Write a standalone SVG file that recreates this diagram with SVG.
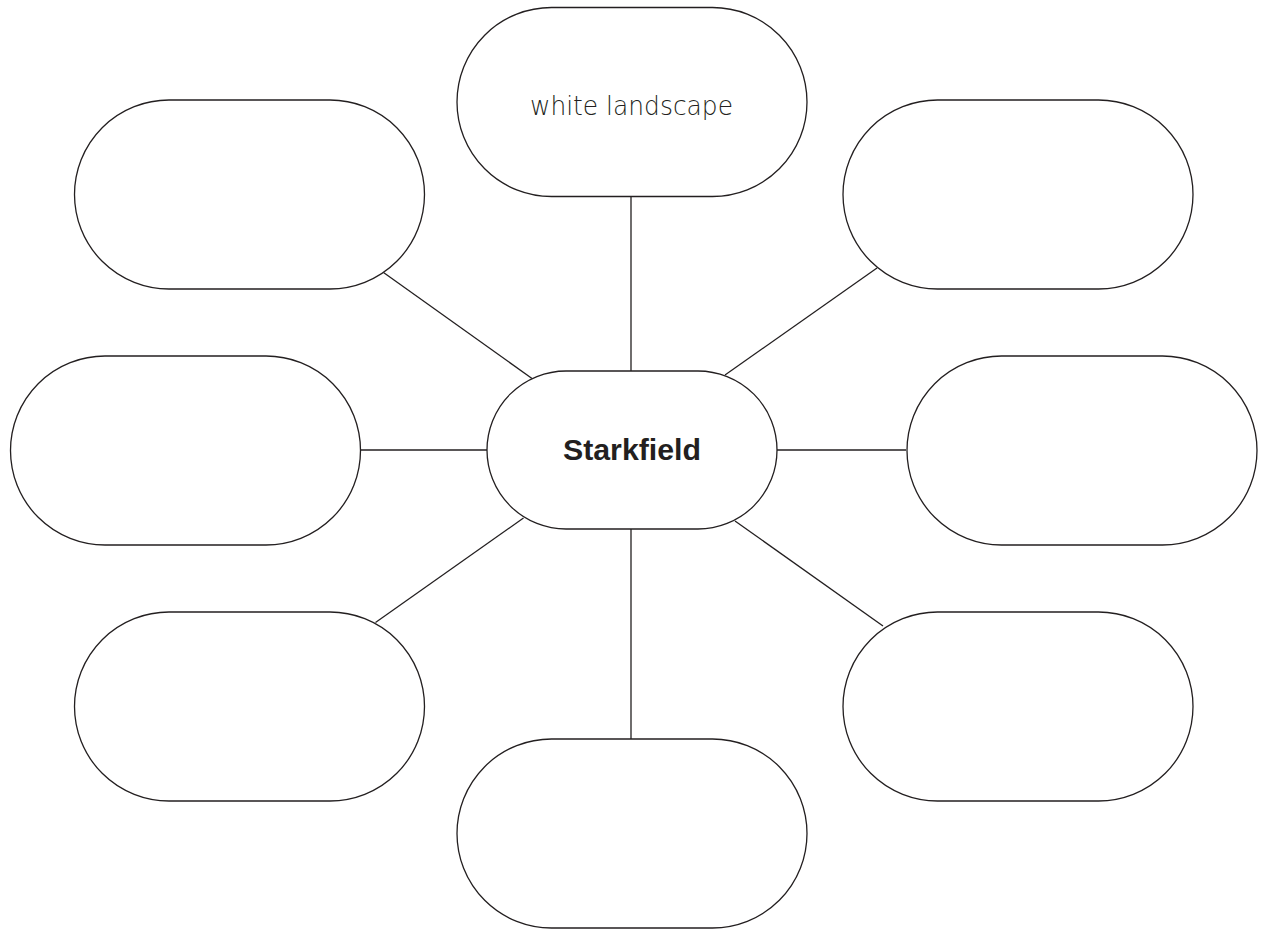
<svg xmlns="http://www.w3.org/2000/svg" width="1264" height="930" viewBox="0 0 1264 930">
<style>
.node{fill:#fff;stroke:#231f20;stroke-width:1.3}
.conn line{stroke:#231f20;stroke-width:1.3}
.hand{font-family:"DejaVu Sans","Liberation Sans",sans-serif;font-weight:200;font-size:27px;fill:#231f20}
.main{font-family:"Liberation Sans",Arial,sans-serif;font-weight:bold;font-size:30px;fill:#231f20}
</style>
<rect width="1264" height="930" fill="#fff"/>
<g id="connectors" class="conn">
<line x1="631" y1="197" x2="631" y2="371"/>
<line x1="383.5" y1="272.5" x2="532" y2="378.5"/>
<line x1="877" y1="268" x2="725" y2="375"/>
<line x1="361" y1="450" x2="487" y2="450"/>
<line x1="777" y1="450" x2="906" y2="450"/>
<line x1="523.5" y1="518" x2="375.5" y2="622.5"/>
<line x1="735" y1="521" x2="883" y2="626"/>
<line x1="631" y1="529" x2="631" y2="739"/>
</g>
<g id="node-top"><rect class="node" x="457" y="7.5" width="350" height="189" rx="94.5"/><text class="hand" x="631.5" y="115" text-anchor="middle" textLength="203" lengthAdjust="spacingAndGlyphs">white landscape</text></g>
<g id="node-top-left"><rect class="node" x="74.5" y="100" width="350" height="189" rx="94.5"/></g>
<g id="node-top-right"><rect class="node" x="843" y="100" width="350" height="189" rx="94.5"/></g>
<g id="node-left"><rect class="node" x="10.5" y="356" width="350" height="189" rx="94.5"/></g>
<g id="node-right"><rect class="node" x="907" y="356" width="350" height="189" rx="94.5"/></g>
<g id="node-bottom-left"><rect class="node" x="74.5" y="612" width="350" height="189" rx="94.5"/></g>
<g id="node-bottom-right"><rect class="node" x="843" y="612" width="350" height="189" rx="94.5"/></g>
<g id="node-bottom"><rect class="node" x="457" y="739" width="350" height="189" rx="94.5"/></g>
<g id="node-center"><rect class="node" x="487" y="371" width="290" height="158" rx="79"/><text class="main" x="632" y="460" text-anchor="middle" textLength="138" lengthAdjust="spacingAndGlyphs">Starkfield</text></g>
</svg>
